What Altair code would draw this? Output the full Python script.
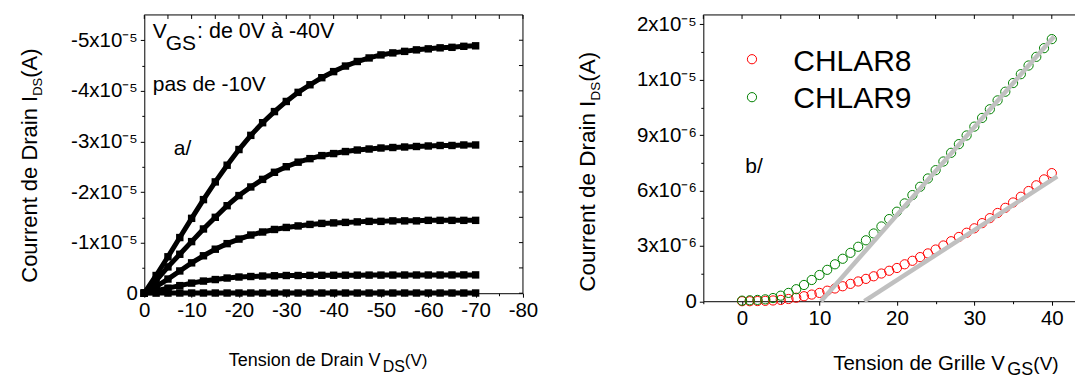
import json
import altair as alt
import pandas as pd

FONT = "Liberation Sans"

# ---------------- left panel : output characteristics ----------------
VDS = [0, -2.5, -5, -7.5, -10, -12.5, -15, -17.5, -20, -22.5, -25, -27.5, -30, -32.5,
       -35, -37.5, -40, -42.5, -45, -47.5, -50, -52.5, -55, -57.5, -60, -62.5, -65, -67.5, -70]
VGS_NAMES = ["0V", "-10V", "-20V", "-30V", "-40V"]
IDS_VGS_0 = [0, -0.002e-5, -0.003e-5, -0.004e-5, -0.004e-5, -0.004e-5, -0.004e-5, -0.004e-5,
             -0.004e-5, -0.004e-5, -0.004e-5, -0.004e-5, -0.004e-5, -0.004e-5, -0.004e-5,
             -0.004e-5, -0.004e-5, -0.004e-5, -0.004e-5, -0.004e-5, -0.004e-5, -0.004e-5,
             -0.004e-5, -0.004e-5, -0.004e-5, -0.004e-5, -0.004e-5, -0.004e-5, -0.004e-5]
IDS_VGS_10 = [0, -0.05e-5, -0.10e-5, -0.15e-5, -0.20e-5, -0.24e-5, -0.27e-5, -0.30e-5, -0.32e-5,
              -0.33e-5, -0.34e-5, -0.345e-5, -0.35e-5, -0.35e-5, -0.352e-5, -0.354e-5, -0.355e-5,
              -0.356e-5, -0.357e-5, -0.358e-5, -0.358e-5, -0.359e-5, -0.36e-5, -0.36e-5,
              -0.36e-5, -0.36e-5, -0.361e-5, -0.362e-5, -0.362e-5]
IDS_VGS_20 = [0, -0.13e-5, -0.28e-5, -0.44e-5, -0.60e-5, -0.74e-5, -0.87e-5, -0.98e-5, -1.07e-5,
              -1.15e-5, -1.21e-5, -1.26e-5, -1.30e-5, -1.33e-5, -1.36e-5, -1.38e-5, -1.39e-5,
              -1.40e-5, -1.41e-5, -1.42e-5, -1.42e-5, -1.43e-5, -1.43e-5, -1.43e-5, -1.44e-5,
              -1.44e-5, -1.44e-5, -1.44e-5, -1.44e-5]
IDS_VGS_30 = [0, -0.25e-5, -0.52e-5, -0.77e-5, -1.02e-5, -1.27e-5, -1.50e-5, -1.73e-5, -1.93e-5,
              -2.10e-5, -2.25e-5, -2.39e-5, -2.50e-5, -2.59e-5, -2.66e-5, -2.72e-5, -2.76e-5,
              -2.80e-5, -2.83e-5, -2.85e-5, -2.87e-5, -2.88e-5, -2.89e-5, -2.90e-5, -2.91e-5,
              -2.92e-5, -2.92e-5, -2.93e-5, -2.93e-5]
IDS_VGS_40 = [0, -0.35e-5, -0.72e-5, -1.10e-5, -1.48e-5, -1.85e-5, -2.20e-5, -2.53e-5, -2.84e-5,
              -3.12e-5, -3.37e-5, -3.59e-5, -3.79e-5, -3.97e-5, -4.12e-5, -4.26e-5, -4.38e-5,
              -4.49e-5, -4.58e-5, -4.65e-5, -4.71e-5, -4.75e-5, -4.78e-5, -4.81e-5, -4.83e-5,
              -4.85e-5, -4.86e-5, -4.88e-5, -4.89e-5]

LX_MAJOR = [0, -10, -20, -30, -40, -50, -60, -70, -80]
LX_LABELS = ["0", "-10", "-20", "-30", "-40", "-50", "-60", "-70", "-80"]
LX_MINOR = [-5, -15, -25, -35, -45, -55, -65, -75]
LY_MAJOR = [0, -1e-5, -2e-5, -3e-5, -4e-5, -5e-5]
LY_LABELS = ["0", "-1x10⁻⁵", "-2x10⁻⁵", "-3x10⁻⁵", "-4x10⁻⁵", "-5x10⁻⁵"]
LY_MINOR = [-0.5e-5, -1.5e-5, -2.5e-5, -3.5e-5, -4.5e-5]

# ---------------- right panel : transfer characteristics ----------------
SERIES = ["CHLAR8", "CHLAR9"]
VGS = list(range(0, 41))
IDS_CHLAR8 = [0.0, 0.0, 0.01e-6, 0.02e-6, 0.04e-6, 0.07e-6, 0.12e-6, 0.19e-6, 0.27e-6, 0.36e-6,
              0.45e-6, 0.57e-6, 0.69e-6, 0.81e-6, 0.94e-6, 1.07e-6, 1.21e-6, 1.35e-6, 1.50e-6,
              1.65e-6, 1.80e-6, 2.00e-6, 2.19e-6, 2.39e-6, 2.59e-6, 2.80e-6, 3.02e-6, 3.25e-6,
              3.48e-6, 3.71e-6, 3.95e-6, 4.23e-6, 4.50e-6, 4.78e-6, 5.06e-6, 5.35e-6, 5.66e-6,
              5.97e-6, 6.28e-6, 6.60e-6, 6.94e-6]
IDS_CHLAR9 = [0.03e-6, 0.05e-6, 0.07e-6, 0.10e-6, 0.17e-6, 0.30e-6, 0.45e-6, 0.65e-6, 0.88e-6,
              1.15e-6, 1.42e-6, 1.70e-6, 2.00e-6, 2.30e-6, 2.62e-6, 2.95e-6, 3.30e-6, 3.67e-6,
              4.05e-6, 4.45e-6, 4.85e-6, 5.30e-6, 5.75e-6, 6.20e-6, 6.65e-6, 7.10e-6, 7.57e-6,
              8.04e-6, 8.51e-6, 8.98e-6, 9.46e-6, 9.93e-6, 10.40e-6, 10.88e-6, 11.35e-6, 11.82e-6,
              12.30e-6, 12.77e-6, 13.24e-6, 13.71e-6, 14.20e-6]
FIT8_X = [15.8, 40.7]
FIT8_Y = [0.0, 6.76e-6]
FIT9_X = [10.2, 40.3]
FIT9_Y = [0.0, 14.34e-6]

RX_MAJOR = [0, 10, 20, 30, 40]
RX_LABELS = ["0", "10", "20", "30", "40"]
RX_MINOR = [-5, 5, 15, 25, 35]
RY_MAJOR = [0, 3e-6, 6e-6, 9e-6, 1.2e-5, 1.5e-5]
RY_LABELS = ["0", "3x10⁻⁶", "6x10⁻⁶", "9x10⁻⁶", "1x10⁻⁵", "2x10⁻⁵"]
RY_MINOR = [1.5e-6, 4.5e-6, 7.5e-6, 1.05e-5, 1.35e-5]

# ---------------- helpers ----------------
ARIAL = {' ': 278, '(': 333, ')': 333, ':': 278, '-': 333, '0': 556, '1': 556, '4': 556,
         'A': 667, 'C': 722, 'D': 722, 'G': 778, 'I': 278, 'S': 667, 'T': 611, 'V': 667,
         'a': 556, 'd': 556, 'e': 556, 'i': 222, 'l': 222, 'n': 556, 'o': 556, 'r': 333,
         's': 500, 't': 278, 'u': 556, 'à': 556}


def tw(s, size):
    return sum(ARIAL.get(c, 556) for c in s) * size / 1000.0


ONE = pd.DataFrame({"k": [0]})


def txt(s, x, y, size, angle=0, dx=0, dy=0, color="black"):
    return alt.Chart(pd.DataFrame({"t": [s]})).mark_text(
        align="left", baseline="alphabetic", font=FONT, fontSize=size, angle=angle,
        dx=dx, dy=dy, color=color
    ).encode(x=alt.value(x), y=alt.value(y), text="t:N")


def pieces(parts, x, y, angle=0):
    """parts: list of (text, size, dx_adjust, dy); consecutive pieces along the baseline."""
    layers, off = [], 0.0
    for s, size, adj, dy in parts:
        off += adj
        layers.append(txt(s, x, y, size, angle=angle, dx=off, dy=dy))
        off += tw(s, size)
    return layers


def border(**enc):
    return alt.Chart(ONE).mark_rule(color="black", strokeWidth=1).encode(**enc)


def axis(major, labels, minor, big=4, small=2.5):
    m = json.dumps(major)
    lab = json.dumps(labels, ensure_ascii=False)
    return alt.Axis(
        values=major + minor,
        labelExpr=f"indexof({m}, datum.value) >= 0 ? {lab}[indexof({m}, datum.value)] : ''",
        tickSize={"condition": {"test": f"indexof({m}, datum.value) >= 0", "value": big},
                  "value": small},
        title=None, domain=True, domainColor="black", domainWidth=1, grid=False, ticks=True,
        tickColor="black", tickWidth=1,
        labelFont=FONT, labelFontSize=20.5, labelColor="black", labelPadding=3,
        labelOverlap=False, labelFlush=False,
    )


# ---------------- left chart ----------------
W1, H1 = 379, 278.5
rows = []
for name, ys in zip(VGS_NAMES, [IDS_VGS_0, IDS_VGS_10, IDS_VGS_20, IDS_VGS_30, IDS_VGS_40]):
    for x, y in zip(VDS, ys):
        rows.append({"vds": x, "ids": y, "vgs": name})
left_df = pd.DataFrame(rows)

xs1 = alt.Scale(domain=[-80, 0], reverse=True, nice=False, zero=False)
ys1 = alt.Scale(domain=[-5.5e-5, 0], reverse=True, nice=False, zero=False)
xa1 = axis(LX_MAJOR, LX_LABELS, LX_MINOR)
ya1 = axis(LY_MAJOR, LY_LABELS, LY_MINOR)

base1 = alt.Chart(left_df).encode(
    x=alt.X("vds:Q", scale=xs1, axis=xa1),
    y=alt.Y("ids:Q", scale=ys1, axis=ya1),
    detail="vgs:N",
)
curves1 = base1.mark_line(color="black", strokeWidth=5)
marks1 = base1.mark_point(shape="square", filled=True, color="black", size=55, opacity=1)

top1 = alt.Chart(pd.DataFrame({"vds": LX_MAJOR + LX_MINOR})).mark_rule(
    color="black", strokeWidth=1).encode(
    x=alt.X("vds:Q", scale=xs1, axis=xa1), y=alt.value(0), y2=alt.value(4))
right1 = alt.Chart(pd.DataFrame({"ids": LY_MAJOR + LY_MINOR})).mark_rule(
    color="black", strokeWidth=1).encode(
    y=alt.Y("ids:Q", scale=ys1, axis=ya1), x=alt.value(W1 - 4), x2=alt.value(W1))
box1 = [border(x=alt.value(0), x2=alt.value(W1), y=alt.value(0)),
        border(x=alt.value(W1), y=alt.value(0), y2=alt.value(H1))]

left_text = []
left_text += pieces([("V", 21, 0, 0), ("GS", 21, -1, 12), (" : de 0V à -40V", 21.5, 1, 0)],
                    8.5, 23)
left_text.append(txt("pas de -10V", 8.5, 75.7, 21))
left_text.append(txt("a/", 29.5, 140, 21))
left_text += pieces([("Courrent de Drain I", 22, 0, 0), ("DS", 13, 0, 5), ("(A)", 22, 0, 0)],
                    -107.5, 268, angle=270)
left_text += pieces([("Tension de Drain V", 18, 0, 0), ("DS", 16, 0, 6), ("(V)", 17, 0, 0)],
                    84.5, 351)

left = alt.layer(curves1, marks1, top1, right1, *box1, *left_text).properties(width=W1, height=H1)

# ---------------- right chart ----------------
W2, H2 = 380, 286.5
rrows = []
for name, ys in zip(SERIES, [IDS_CHLAR8, IDS_CHLAR9]):
    for x, y in zip(VGS, ys):
        rrows.append({"vgs": x, "ids": y, "s": name})
right_df = pd.DataFrame(rrows)
frows = []
for name, xs, ys in zip(SERIES, [FIT8_X, FIT9_X], [FIT8_Y, FIT9_Y]):
    for x, y in zip(xs, ys):
        frows.append({"vgs": x, "ids": y, "s": name})
fit_df = pd.DataFrame(frows)

xs2 = alt.Scale(domain=[-5, 44.03], nice=False, zero=False)
ys2 = alt.Scale(domain=[0, 1.551e-5], nice=False, zero=False)
xa2 = axis(RX_MAJOR, RX_LABELS, RX_MINOR)
ya2 = axis(RY_MAJOR, RY_LABELS, RY_MINOR)
colors = alt.Scale(domain=SERIES, range=["#ff0000", "#008000"])

pts2 = alt.Chart(right_df).mark_point(shape="circle", filled=False, size=85, strokeWidth=1,
                                      opacity=1).encode(
    x=alt.X("vgs:Q", scale=xs2, axis=xa2),
    y=alt.Y("ids:Q", scale=ys2, axis=ya2),
    stroke=alt.Stroke("s:N", scale=colors, legend=None),
)
fits2 = alt.Chart(fit_df).mark_line(color="#c0c0c0", strokeWidth=4.5).encode(
    x=alt.X("vgs:Q", scale=xs2, axis=xa2), y=alt.Y("ids:Q", scale=ys2, axis=ya2),
    detail="s:N")
top2 = alt.Chart(pd.DataFrame({"vgs": RX_MAJOR + RX_MINOR})).mark_rule(
    color="black", strokeWidth=1).encode(
    x=alt.X("vgs:Q", scale=xs2, axis=xa2), y=alt.value(0), y2=alt.value(4))
box2 = [border(x=alt.value(0), x2=alt.value(W2), y=alt.value(0))]

leg = []
for name, col, yc, yb in zip(SERIES, ["#ff0000", "#008000"], [44.3, 82.3], [55.7, 93.3]):
    leg.append(alt.Chart(pd.DataFrame({"s": [name]})).mark_point(
        shape="circle", filled=False, size=85, strokeWidth=1, color=col, opacity=1
    ).encode(x=alt.value(48.7), y=alt.value(yc)))
    leg.append(txt(name, 90, yb, 30))

right_text = [txt("b/", 42, 158, 21)]
right_text += pieces([("Courrent de Drain I", 22.5, 0, 0), ("DS", 13.5, 0, 5), ("(A)", 22.5, 0, 0)],
                     -108, 277, angle=270)
right_text += pieces([("Tension de Grille V", 20.5, 0, 0), ("GS", 18, 0, 5), ("(V)", 19, 0, 0)],
                     130, 355)

right = alt.layer(pts2, fits2, top2, *box2, *leg, *right_text).properties(width=W2, height=H2)

chart = alt.hconcat(left, right, spacing=180.5, bounds="flush").properties(
    padding={"left": 10.4, "top": 5.8, "right": -8.5, "bottom": 0}
).configure_view(stroke=None)

chart.save("out.html", embed_options={"renderer": "svg", "actions": False})
